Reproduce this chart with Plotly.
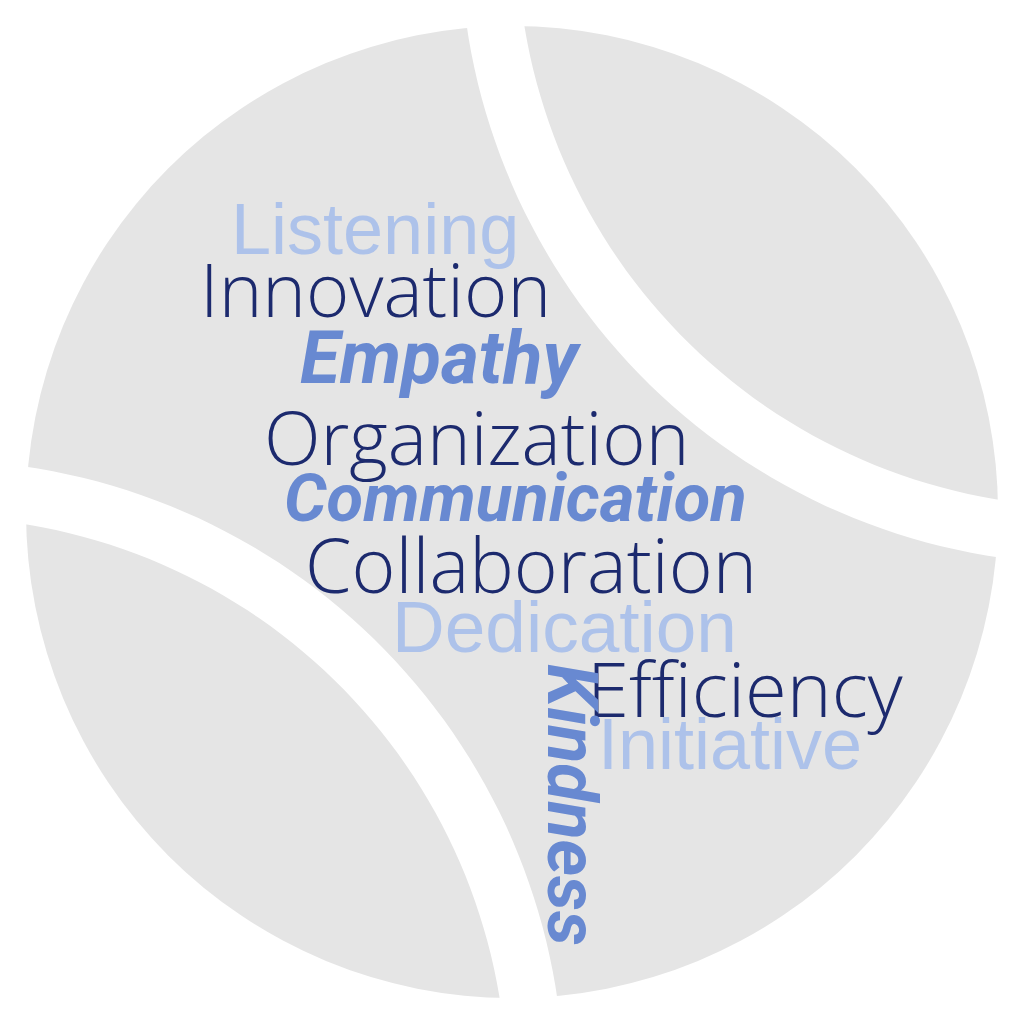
import numpy as np
import plotly.graph_objects as go

# word cloud content
words = ["Listening", "Innovation", "Empathy", "Organization", "Communication",
         "Collaboration", "Dedication", "Efficiency", "Initiative", "Kindness"]
groups = ["light", "dark", "script", "dark", "script",
          "dark", "light", "dark", "light", "script"]
weights = [72, 74, 73, 74, 67, 75, 73, 76, 72, 70]

# where each word sits on the ball (pixel grid, y down)
word_x = [375, 375, 440, 476, 515, 531, 564, 745, 730, 572]
word_y = [229, 288, 358, 436, 498, 564, 626, 687, 744, 805]
word_angle = [0, 0, 0, 0, 0, 0, 0, 0, 0, 90]

styles = {
    "light": dict(family="Liberation Sans, Arial", color="#adc2ea", weight="normal", style="normal"),
    "dark": dict(family="Open Sans, Lato", color="#1c2a6e", weight=300, style="normal"),
    "script": dict(family="Roboto, DejaVu Sans", color="#6889d1", weight="bold", style="italic"),
}

BALL_GREY = "#e5e5e5"


def seam_path(cx, cy, r_in, r_out, a0, a1, n=80):
    # band between two concentric arcs, as an svg path
    t = np.radians(np.linspace(a0, a1, n))
    outer = [(cx + r_out * np.cos(a), cy + r_out * np.sin(a)) for a in t]
    inner = [(cx + r_in * np.cos(a), cy + r_in * np.sin(a)) for a in t[::-1]]
    pts = outer + inner
    return "M " + " L ".join(f"{x:.1f},{y:.1f}" for x, y in pts) + " Z"


fig = go.Figure()

shapes = [
    dict(type="circle", xref="x", yref="y", x0=26, y0=26, x1=998, y1=998,
         fillcolor=BALL_GREY, line=dict(width=0), layer="below"),
    dict(type="path", xref="x", yref="y", path=seam_path(1090, -66, 573, 630, 80, 190),
         fillcolor="white", line=dict(width=0), layer="below"),
    dict(type="path", xref="x", yref="y", path=seam_path(-66, 1090, 573, 630, 260, 370),
         fillcolor="white", line=dict(width=0), layer="below"),
]

annotations = []
for w, g, s, x, y, ang in zip(words, groups, weights, word_x, word_y, word_angle):
    st = styles[g]
    annotations.append(dict(
        x=x, y=y, xref="x", yref="y", text=w, showarrow=False,
        xanchor="center", yanchor="middle", textangle=ang,
        font=dict(family=st["family"], size=s, color=st["color"],
                  weight=st["weight"], style=st["style"]),
    ))

# invisible trace so the axes exist
fig.add_trace(go.Scatter(x=word_x, y=word_y, mode="markers",
                         marker=dict(opacity=0), hoverinfo="skip", showlegend=False))

fig.update_layout(
    width=1024,
    height=1024,
    margin=dict(l=0, r=0, t=0, b=0),
    paper_bgcolor="white",
    plot_bgcolor="white",
    shapes=shapes,
    annotations=annotations,
    xaxis=dict(range=[0, 1024], visible=False, fixedrange=True),
    yaxis=dict(range=[1024, 0], visible=False, fixedrange=True),
    showlegend=False,
)

fig.write_html("out.html", config={"displayModeBar": False},
               post_script="document.body.style.margin='0';")
